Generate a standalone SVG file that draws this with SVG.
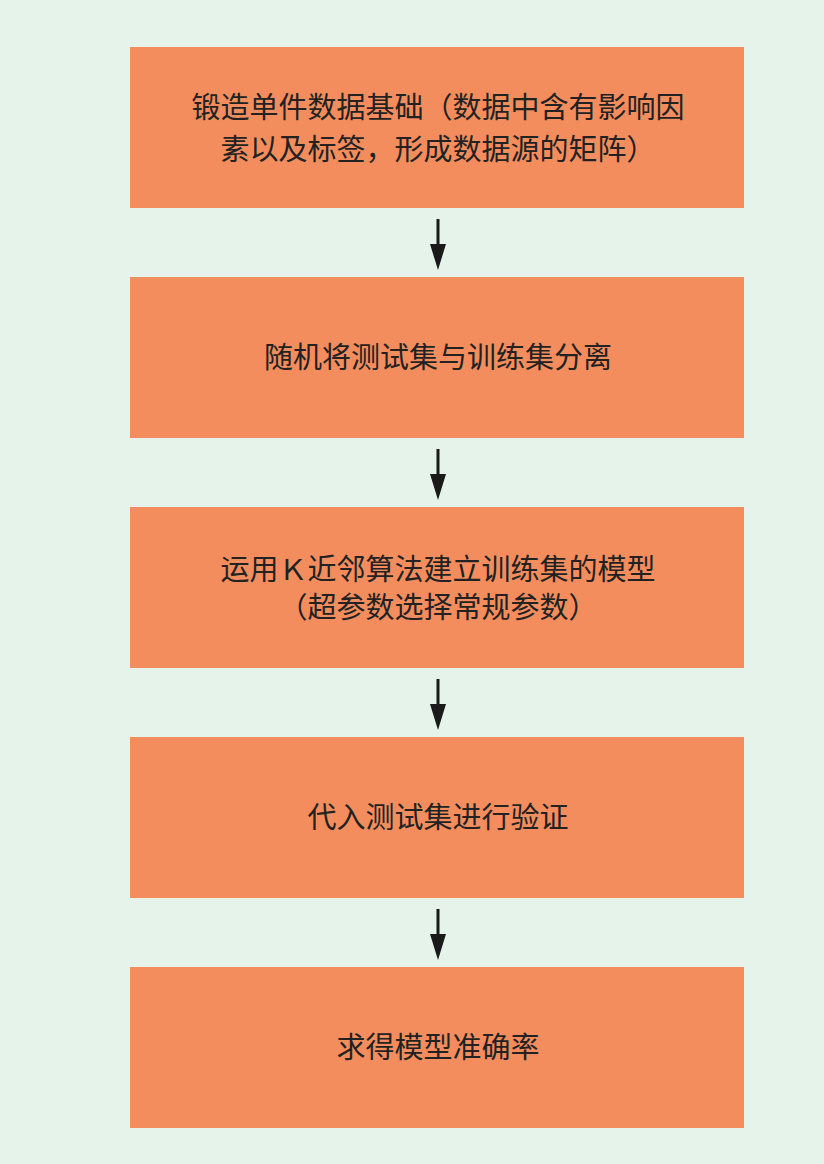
<svg xmlns="http://www.w3.org/2000/svg" width="824" height="1164" viewBox="0 0 824 1164">
<defs>
<style>
.box{fill:#f48d5e}
.t{font-family:"Noto Sans CJK SC","Noto Sans",sans-serif;font-size:29px;fill:#222;text-anchor:middle}
.c{stroke:#1a1a1a;stroke-width:3;fill:none}
</style>
<marker id="ah" viewBox="0 0 10 10" refX="9" refY="5" markerWidth="6" markerHeight="9" markerUnits="userSpaceOnUse" orient="auto">
</marker>
</defs>
<rect width="824" height="1164" fill="#e5f3ea"/>
<g id="n1"><rect class="box" x="130" y="47" width="614" height="161"/>
<text class="t" x="438" y="118">锻造单件数据基础（数据中含有影响因</text>
<text class="t" x="438" y="160">素以及标签，形成数据源的矩阵）</text></g>
<g id="n2"><rect class="box" x="130" y="277" width="614" height="161"/>
<text class="t" x="438" y="368">随机将测试集与训练集分离</text></g>
<g id="n3"><rect class="box" x="130" y="507" width="614" height="161"/>
<text class="t" x="438" y="580">运用Ｋ近邻算法建立训练集的模型</text>
<text class="t" x="438" y="618">（超参数选择常规参数）</text></g>
<g id="n4"><rect class="box" x="130" y="737" width="614" height="161"/>
<text class="t" x="438" y="828">代入测试集进行验证</text></g>
<g id="n5"><rect class="box" x="130" y="967" width="614" height="161"/>
<text class="t" x="438" y="1058">求得模型准确率</text></g>
<g id="connectors" fill="#1a1a1a">
<path class="c" d="M438 219V250M438 449V480M438 679V710M438 909V940"/>
<path d="M430 244L446 244L438 270Z M430 474L446 474L438 500Z M430 704L446 704L438 730Z M430 934L446 934L438 960Z"/>
</g>
</svg>
